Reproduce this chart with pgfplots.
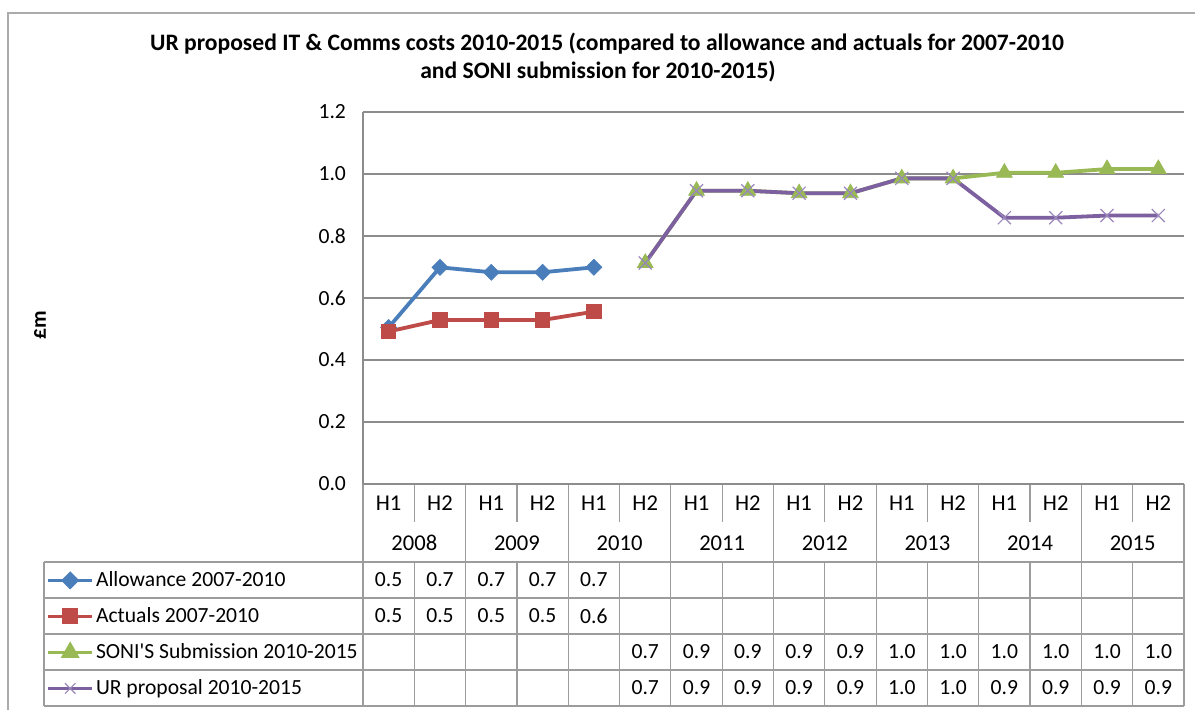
\documentclass[border=0pt]{standalone}
\usepackage{fontspec}
\setmainfont{Carlito}
\usepackage{pgfplots}
\pgfplotsset{compat=1.18}
\definecolor{cblue}{HTML}{4A7EBB}
\definecolor{cred}{HTML}{BE4B48}
\definecolor{cgreen}{HTML}{98B954}
\definecolor{cpurple}{HTML}{7D60A0}
\definecolor{cxmark}{HTML}{9A88BC}
\definecolor{gridc}{HTML}{8C8C8C}
\definecolor{tabc}{HTML}{9C9C9C}
\definecolor{framec}{HTML}{ABABAB}
\begin{document}
\begin{tikzpicture}[font=\fontsize{10.8}{13}\selectfont]
\useasboundingbox (0pt,0pt) rectangle (597.5pt,-354.5pt);
\begin{scope}
\clip (0pt,0pt) rectangle (597.5pt,-354.5pt);
\begin{scope}[x=0.5pt,y=-0.5pt]
  \draw[framec, line width=1.4pt] (8,13) rectangle (1215,730);
\end{scope}
\end{scope}
\begin{scope}[x=0.5pt,y=-0.5pt]
  % title
  \node[font=\fontsize{11.8}{14}\selectfont\bfseries] at (607,44) {UR proposed IT \& Comms costs 2010-2015 (compared to allowance and actuals for 2007-2010};
  \node[font=\fontsize{11.8}{14}\selectfont\bfseries] at (598,72) {and SONI submission for 2010-2015)};
  \node[font=\fontsize{10.8}{13}\selectfont\bfseries, rotate=90] at (40,325) {£m};
  % table grid
  \foreach \i in {0,...,16} {
    \pgfmathsetmacro{\xx}{363+\i*51.3125}
    \ifodd\i
      \draw[tabc, line width=0.6pt] (\xx,484) -- (\xx,522);
      \draw[tabc, line width=0.6pt] (\xx,562) -- (\xx,706);
    \else
      \draw[tabc, line width=0.6pt] (\xx,484) -- (\xx,706);
    \fi
  }
  \foreach \yy in {562,598,634,670,706} {
    \draw[tabc, line width=0.6pt] (44,\yy) -- (1184,\yy);
  }
  \draw[tabc, line width=0.6pt] (44,562) -- (44,706);
  % table values
  \foreach \v [count=\i from 0] in {0.5,0.7,0.7,0.7,0.7} {
    \node at ({363+(\i+0.5)*51.3125},580) {\v};
  }
  \foreach \v [count=\i from 0] in {0.5,0.5,0.5,0.5,0.6} {
    \node at ({363+(\i+0.5)*51.3125},616) {\v};
  }
  \foreach \v [count=\i from 5] in {0.7,0.9,0.9,0.9,0.9,1.0,1.0,1.0,1.0,1.0,1.0} {
    \node at ({363+(\i+0.5)*51.3125},652) {\v};
  }
  \foreach \v [count=\i from 5] in {0.7,0.9,0.9,0.9,0.9,1.0,1.0,0.9,0.9,0.9,0.9} {
    \node at ({363+(\i+0.5)*51.3125},688) {\v};
  }
\end{scope}
\begin{axis}[
  at={(181.5pt,-242pt)}, anchor=south west,
  scale only axis, width=410.5pt, height=186pt,
  xmin=-0.5, xmax=15.5, ymin=0, ymax=1.2,
  axis lines=left, axis line style={-, gridc, line width=0.6pt},
  ytick={0,0.2,0.4,0.6,0.8,1.0,1.2},
  ymajorgrids, grid style={gridc, line width=0.6pt},
  major tick length=0pt,
  yticklabel style={xshift=-5pt, /pgf/number format/fixed, /pgf/number format/fixed zerofill, /pgf/number format/precision=1, /pgf/number format/assume math mode=true},
  xtick={0,...,15},
  xticklabels={H1,H2,H1,H2,H1,H2,H1,H2,H1,H2,H1,H2,H1,H2,H1,H2},
  xticklabel style={anchor=center, yshift=-9.5pt, font=\fontsize{11.3}{13}\selectfont},
  extra x ticks={0.5,2.5,4.5,6.5,8.5,10.5,12.5,14.5},
  extra x tick labels={2008,2009,2010,2011,2012,2013,2014,2015},
  extra x tick style={xticklabel style={yshift=-20pt}},
  yticklabel style={font=\fontsize{10.8}{13}\selectfont},
  clip=false,
  legend cell align=left,
  legend style={at={(axis description cs:-0.3861,-0.2097)}, anchor=north west,
    draw=none, fill=none, inner sep=0pt, row sep=0pt,
    font=\fontsize{10.8}{13}\selectfont,
    nodes={inner xsep=1pt, inner ysep=0pt, minimum height=18pt}},
  legend image code/.code={\draw[mark repeat=2,mark phase=2] plot coordinates {(0pt,0pt) (11pt,0pt) (22pt,0pt)};},
]
% lines
\addplot[cblue, line width=1.9pt, forget plot] coordinates {(0,0.505) (1,0.699) (2,0.683) (3,0.683) (4,0.699)};
\addplot[cred, line width=1.9pt, forget plot] coordinates {(0,0.492) (1,0.529) (2,0.529) (3,0.529) (4,0.556)};
\addplot[cgreen, line width=1.9pt, forget plot] coordinates {(5,0.713) (6,0.946) (7,0.946) (8,0.938) (9,0.938) (10,0.986) (11,0.986) (12,1.004) (13,1.004) (14,1.016) (15,1.016)};
\addplot[cpurple, line width=1.9pt, forget plot] coordinates {(5,0.713) (6,0.946) (7,0.946) (8,0.938) (9,0.938) (10,0.986) (11,0.986) (12,0.859) (13,0.859) (14,0.866) (15,0.866)};
% markers
\addplot[only marks, mark=square*, mark size=2.8pt, mark options={rotate=45, fill=cblue, draw=cblue}, forget plot] coordinates {(0,0.505) (1,0.699) (2,0.683) (3,0.683) (4,0.699)};
\addplot[only marks, mark=square*, mark size=3.6pt, mark options={fill=cred, draw=cred}, forget plot] coordinates {(0,0.492) (1,0.529) (2,0.529) (3,0.529) (4,0.556)};
\addplot[only marks, mark=triangle*, mark size=4.5pt, mark options={fill=cgreen, draw=cgreen}, forget plot] coordinates {(5,0.713) (6,0.946) (7,0.946) (8,0.938) (9,0.938) (10,0.986) (11,0.986) (12,1.004) (13,1.004) (14,1.016) (15,1.016)};
\addplot[only marks, mark=x, mark size=4.6pt, mark options={draw=cxmark, line width=0.6pt}, forget plot] coordinates {(5,0.713) (6,0.946) (7,0.946) (8,0.938) (9,0.938) (10,0.986) (11,0.986) (12,0.859) (13,0.859) (14,0.866) (15,0.866)};
% legend
\addlegendimage{cblue, line width=1.8pt, mark=square*, mark size=2.3pt, mark options={rotate=45}}
\addlegendentry{Allowance 2007-2010}
\addlegendimage{cred, line width=1.8pt, mark=square*, mark size=3.1pt}
\addlegendentry{Actuals 2007-2010}
\addlegendimage{cgreen, line width=1.8pt, mark=triangle*, mark size=3.7pt}
\addlegendentry{SONI\textquotesingle S Submission 2010-2015}
\addlegendimage{cpurple, line width=1.8pt, mark=x, mark size=3.7pt, mark options={draw=cxmark, line width=0.6pt}}
\addlegendentry{UR proposal 2010-2015}
\end{axis}
\end{tikzpicture}
\end{document}
